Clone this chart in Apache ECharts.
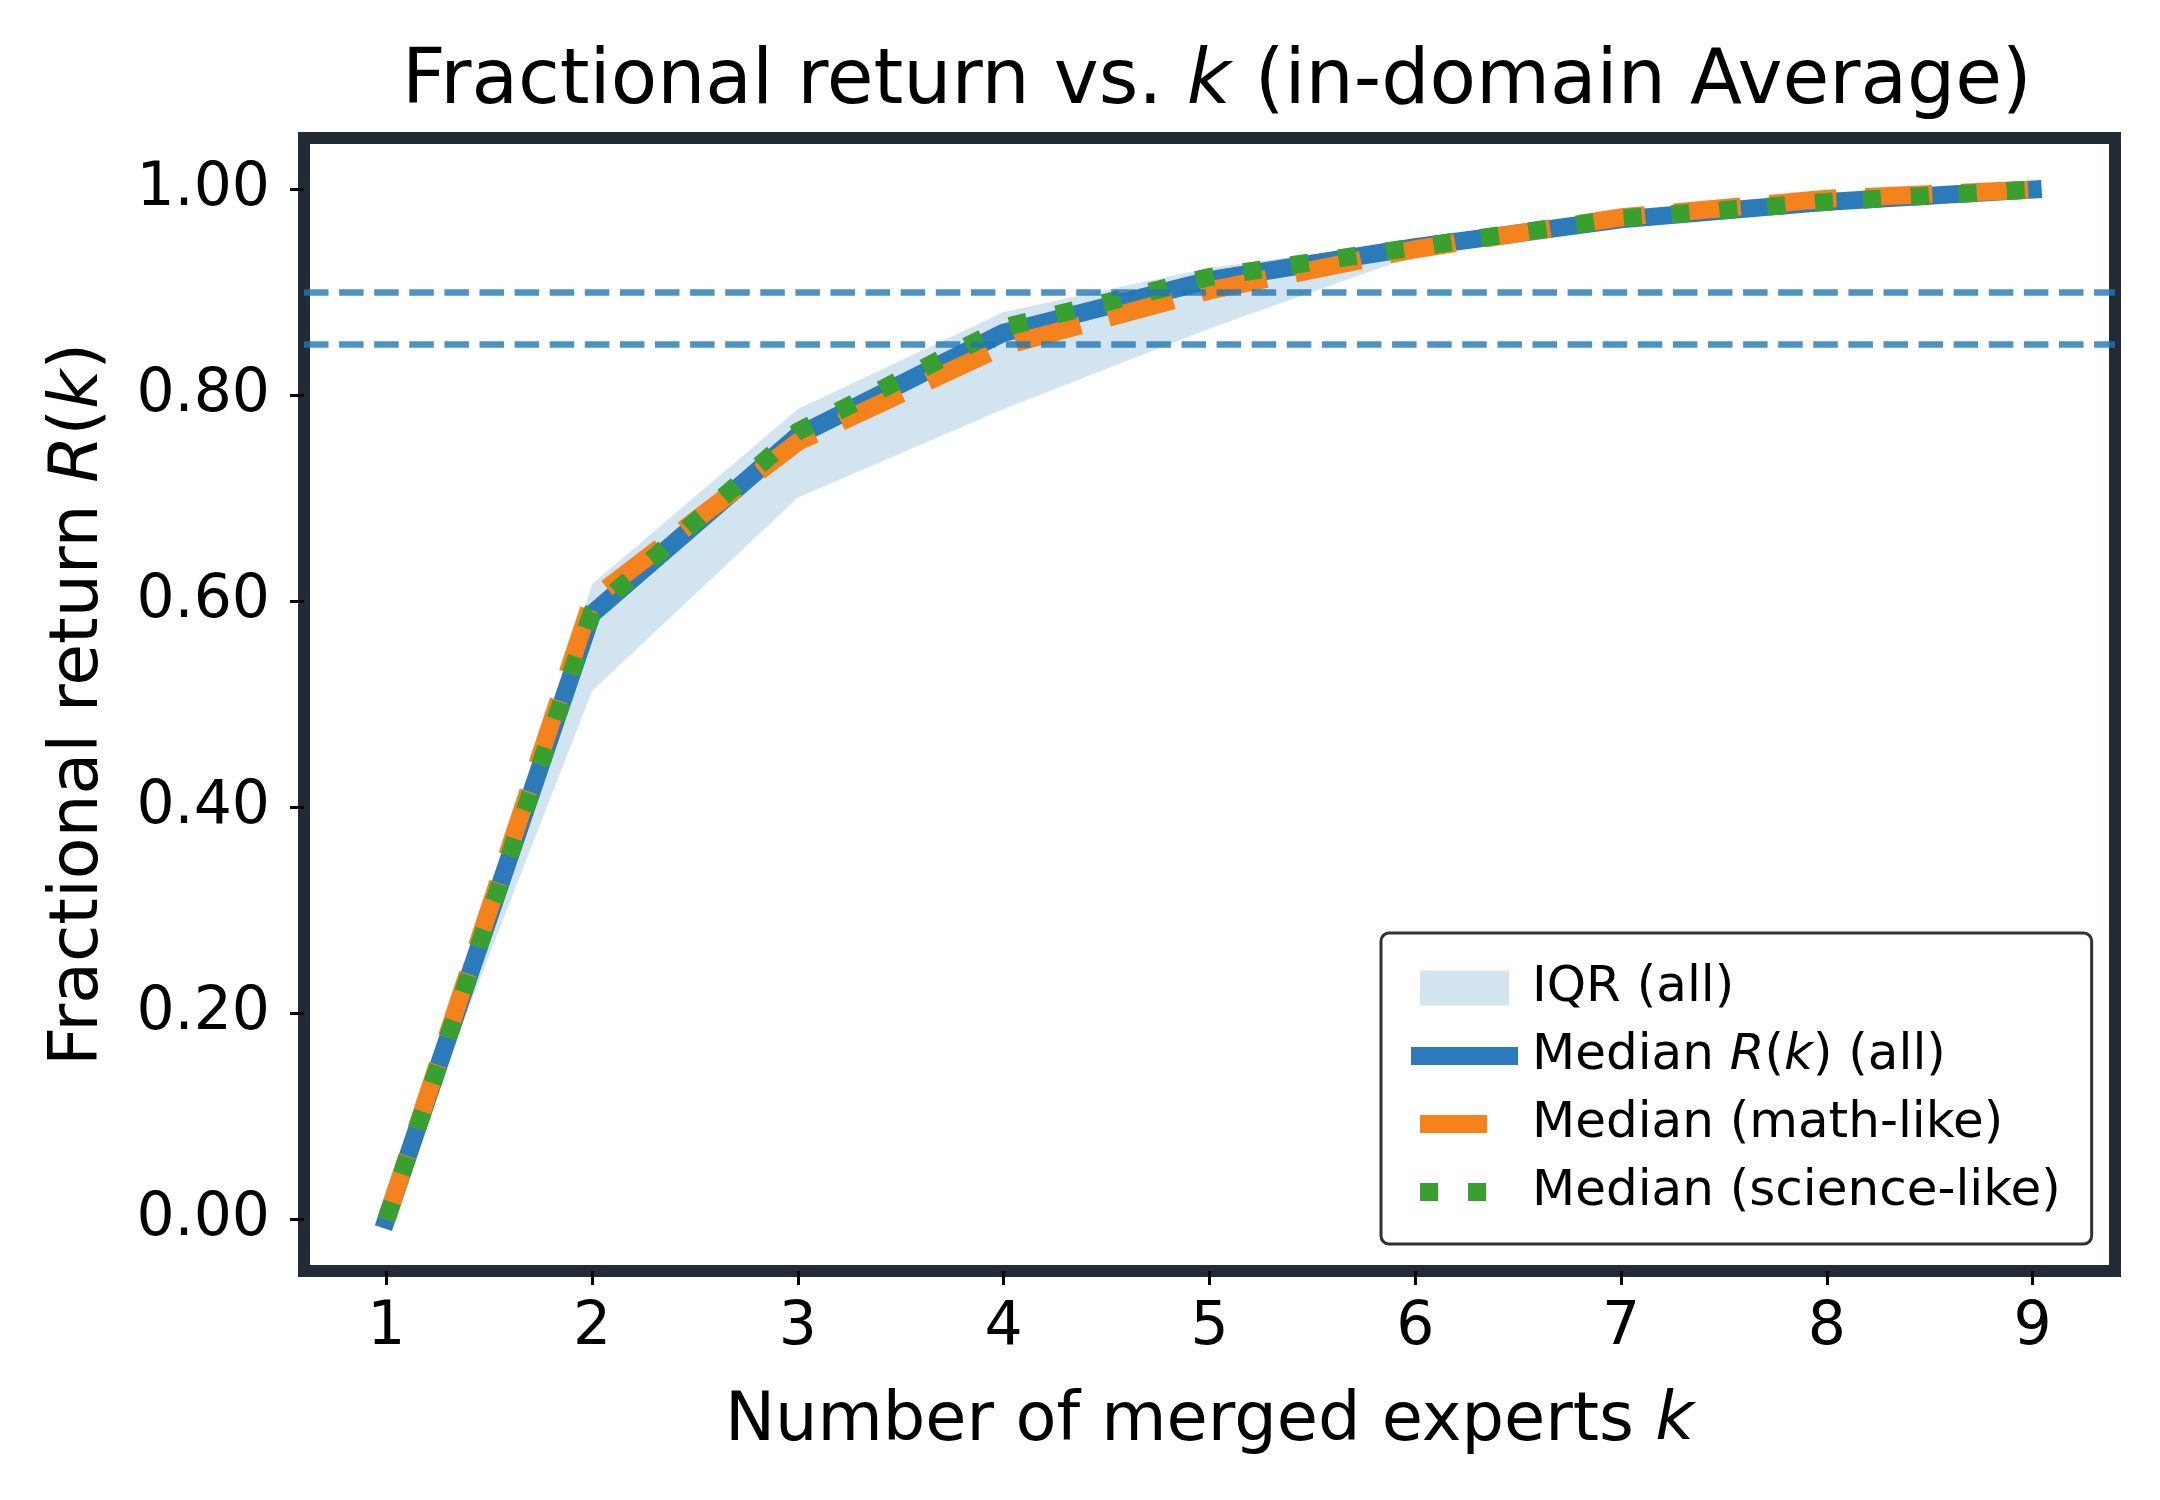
<!DOCTYPE html>
<html>
<head>
<meta charset="utf-8">
<title>Fractional return vs. k</title>
<script src="https://cdn.jsdelivr.net/npm/echarts@6/dist/echarts.min.js"></script>
<style>
  html, body { margin: 0; padding: 0; background: #fff; }
  #chart { width: 2160px; height: 1500px; }
</style>
</head>
<body>
<div id="chart"></div>
<script>
// number of merged experts
const kValues = [1, 2, 3, 4, 5, 6, 7, 8, 9];

// median fractional return R(k)
const medianAll = [0, 0.588, 0.761, 0.861, 0.912, 0.944, 0.971, 0.988, 1.0];
const medianMath = [0, 0.602, 0.755, 0.848, 0.902, 0.942, 0.973, 0.991, 1.0];
const medianScience = [0, 0.590, 0.765, 0.866, 0.915, 0.944, 0.972, 0.988, 1.0];

// interquartile range (all)
const iqrLower = [0, 0.513, 0.701, 0.787, 0.865, 0.936, 0.967, 0.985, 1.0];
const iqrUpper = [0, 0.617, 0.787, 0.881, 0.924, 0.950, 0.975, 0.991, 1.0];

// dashed horizontal reference levels
const refLevels = [0.85, 0.9];

// tick labels
const xTicks = [1, 2, 3, 4, 5, 6, 7, 8, 9];
const yTicks = [0, 0.2, 0.4, 0.6, 0.8, 1.0];

const FONT = 'DejaVu Sans';
const SPINE = '#222a35';
const IQR_FILL = 'rgba(31,119,180,0.2)';

function pairs(values) {
  return kValues.map((k, i) => [k, values[i]]);
}

// legend shows rich text with italic R and k
const legendLabels = {
  'IQR (all)': 'IQR (all)',
  'Median R(k) (all)': 'Median {i|R}({i|k}) (all)',
  'Median (math-like)': 'Median (math-like)',
  'Median (science-like)': 'Median (science-like)'
};

// hide the little circle echarts puts in the middle of line legend icons
const noSymbol = { color: 'rgba(0,0,0,0)', borderWidth: 0, opacity: 0 };

const chart = echarts.init(document.getElementById('chart'), null, { renderer: 'canvas' });

const option = {
  animation: false,
  backgroundColor: '#fff',
  title: {
    text: '{n|Fractional return vs. }{i|k}{n| (in-domain Average)}',
    left: 402,
    top: 45,
    padding: 0,
    textStyle: {
      fontWeight: 'normal',
      rich: {
        n: { fontFamily: FONT, fontSize: 76, fontWeight: 'normal', color: '#000' },
        i: { fontFamily: FONT, fontSize: 76, fontWeight: 'normal', color: '#000', fontStyle: 'italic' }
      }
    }
  },
  grid: {
    left: 304,
    top: 138,
    right: 45,
    bottom: 229,
    show: true,
    borderColor: SPINE,
    borderWidth: 12,
    backgroundColor: '#fff',
    containLabel: false,
    outerBoundsMode: 'none'
  },
  legend: {
    orient: 'vertical',
    left: 1381,
    top: 933,
    padding: [30, 31, 27, 30],
    itemGap: 18,
    itemWidth: 89,
    itemHeight: 35,
    backgroundColor: '#fff',
    borderColor: '#2a323d',
    borderWidth: 3,
    borderRadius: 8,
    selectedMode: false,
    formatter: name => legendLabels[name],
    textStyle: {
      fontFamily: FONT,
      fontSize: 50,
      lineHeight: 50,
      color: '#000',
      padding: [0, 0, 0, 18],
      rich: {
        i: { fontFamily: FONT, fontSize: 50, color: '#000', fontStyle: 'italic' }
      }
    },
    data: [
      { name: 'IQR (all)', icon: 'rect', itemStyle: { color: IQR_FILL, borderWidth: 0 } },
      { name: 'Median R(k) (all)', itemStyle: noSymbol, lineStyle: { width: 18, cap: 'square' } },
      { name: 'Median (math-like)', itemStyle: noSymbol, lineStyle: { width: 18, type: [67, 29], cap: 'butt' } },
      { name: 'Median (science-like)', itemStyle: noSymbol, lineStyle: { width: 18, type: [18, 30], cap: 'butt' } }
    ]
  },
  xAxis: {
    type: 'value',
    min: 0.6,
    max: 9.4,
    name: '{n|Number of merged experts }{i|k}',
    nameLocation: 'middle',
    nameGap: 118,
    nameTextStyle: {
      rich: {
        n: { fontFamily: FONT, fontSize: 67, color: '#000' },
        i: { fontFamily: FONT, fontSize: 67, color: '#000', fontStyle: 'italic' }
      }
    },
    axisLine: { show: false, onZero: false },
    splitLine: { show: false },
    axisTick: {
      show: true,
      length: 14,
      customValues: xTicks,
      lineStyle: { color: '#000', width: 3 }
    },
    axisLabel: {
      customValues: xTicks,
      margin: 27,
      fontFamily: FONT,
      fontSize: 60,
      color: '#000'
    }
  },
  yAxis: {
    type: 'value',
    min: -0.05,
    max: 1.05,
    name: '{n|Fractional return }{i|R}{n|(}{i|k}{n|)}',
    nameLocation: 'middle',
    nameGap: 191,
    nameTextStyle: {
      rich: {
        n: { fontFamily: FONT, fontSize: 68, color: '#000' },
        i: { fontFamily: FONT, fontSize: 68, color: '#000', fontStyle: 'italic' }
      }
    },
    axisLine: { show: false, onZero: false },
    splitLine: { show: false },
    axisTick: {
      show: true,
      length: 14,
      customValues: yTicks,
      lineStyle: { color: '#000', width: 3 }
    },
    axisLabel: {
      customValues: yTicks,
      margin: 34,
      fontFamily: FONT,
      fontSize: 60,
      color: '#000',
      formatter: v => v.toFixed(2)
    }
  },
  series: [
    {
      // IQR band: one polygon, upper edge out and lower edge back
      name: 'IQR (all)',
      type: 'custom',
      silent: true,
      itemStyle: { color: IQR_FILL },
      data: kValues.map((k, i) => [k, iqrLower[i], iqrUpper[i]]),
      encode: { x: 0, y: [1, 2] },
      renderItem: function (params, api) {
        if (params.dataIndex !== 0) return;
        const upper = kValues.map((k, i) => api.coord([k, iqrUpper[i]]));
        const lower = kValues.map((k, i) => api.coord([k, iqrLower[i]])).reverse();
        return {
          type: 'polygon',
          shape: { points: upper.concat(lower) },
          style: { fill: IQR_FILL }
        };
      },
      z: 1
    },
    {
      name: 'Median R(k) (all)',
      type: 'line',
      symbol: 'none',
      color: '#2b7bba',
      lineStyle: { color: '#2b7bba', width: 18, cap: 'square', join: 'round' },
      data: pairs(medianAll),
      z: 2
    },
    {
      name: 'Median (math-like)',
      type: 'line',
      symbol: 'none',
      color: '#f6821c',
      lineStyle: { color: '#f6821c', width: 18, type: [67, 29], cap: 'butt', join: 'round' },
      data: pairs(medianMath),
      z: 3
    },
    {
      name: 'Median (science-like)',
      type: 'line',
      symbol: 'none',
      color: '#37a02f',
      lineStyle: { color: '#37a02f', width: 18, type: [18, 30], cap: 'butt', join: 'round' },
      data: pairs(medianScience),
      z: 4
    },
    {
      name: 'reference levels',
      type: 'line',
      data: [],
      z: 5,
      markLine: {
        silent: true,
        symbol: ['none', 'none'],
        label: { show: false },
        lineStyle: { color: 'rgba(31,119,180,0.8)', width: 6.7, type: [24.5, 10.6] },
        data: refLevels.map(v => ({ yAxis: v }))
      }
    }
  ]
};

chart.setOption(option);
</script>
</body>
</html>
